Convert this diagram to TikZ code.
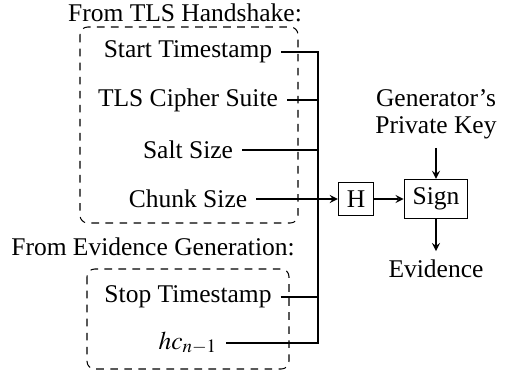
\documentclass[tikz,border=0pt]{standalone}
\usepackage{mathptmx}
\usepackage{fontspec}
\setmainfont{Liberation Serif}
\usetikzlibrary{arrows}
\begin{document}
\begin{tikzpicture}[x=0.392pt,y=-0.392pt]
\def\colx{188};%Centro de la columna de entradas
\def\busx{318};%Posicion de la barra vertical
\tikzset{grupo/.style={dash pattern=on 3pt off 2.5pt,rounded corners=3pt}}
\tikzset{bloque/.style={draw,minimum height=13pt}}
\useasboundingbox (0,0) rectangle (519,370);

%Grupos punteados
\draw[grupo] (80,27) rectangle (298,223);
\draw[grupo] (87,269) rectangle (289,369);
\node (tlslbl) at (185,13) {From TLS Handshake:};
\node (evlbl) at (153,247) {From Evidence Generation:};

%Entradas
\foreach \n/\t/\y in {st/Start Timestamp/52,cs/TLS Cipher Suite/100,ss/Salt Size/150,ch/Chunk Size/199,sp/Stop Timestamp/297,hc/$hc_{n-1}$/343}{
    \node (\n) at (\colx,\y) {\t};
}

%Bloques
\node[bloque] (H) at (356,199) {H};
\node[bloque] (sign) at (436,199) {Sign};
\node[align=center] (key) at (436,114) {Generator's\\[-1.3pt]Private Key};
\node (ev) at (436,269) {Evidence};

%Conexiones
\coordinate (bus) at (\busx,0);
\draw (st.east) -- (st.east -| bus) -- (hc.east -| bus) -- (hc.east);
\foreach \n in {cs,ss,sp}{
    \draw (\n.east) -- (\n.east -| bus);
}
\draw[-stealth] (ch.east) -- (H.west);
\draw[-stealth] (H) -- (sign);
\draw[-stealth] (key) -- (sign);
\draw[-stealth] (sign) -- (ev);
\end{tikzpicture}
\end{document}
